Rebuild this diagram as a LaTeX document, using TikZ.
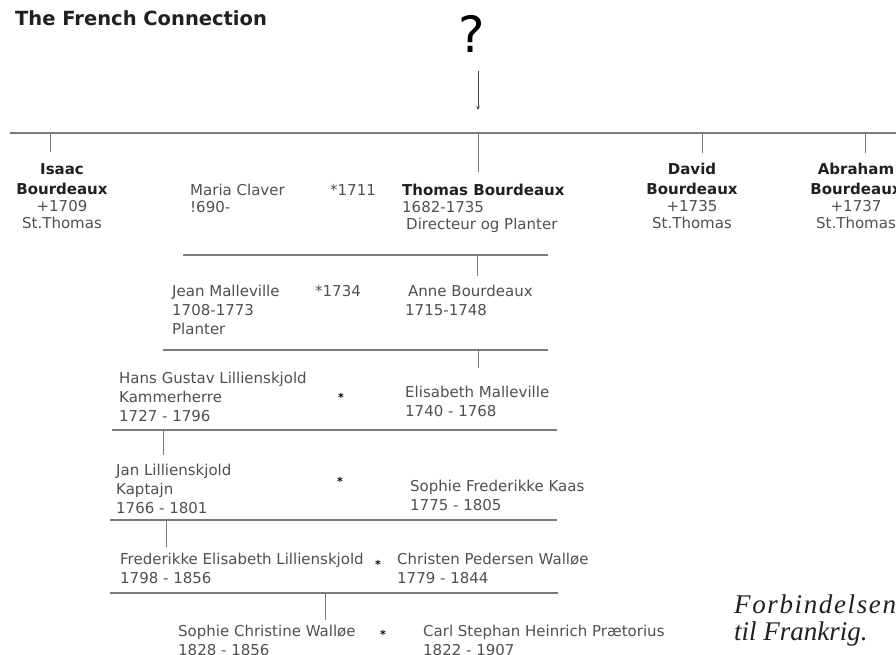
\documentclass[tikz,border=0pt]{standalone}
\usepackage{fontspec}
\usepackage{tikz}
\usetikzlibrary{arrows.meta}
\setmainfont{DejaVu Sans}
\newfontfamily\captionfont{Liberation Serif}
\definecolor{textgrey}{HTML}{505050}
\definecolor{namegrey}{HTML}{202020}
\definecolor{linegrey}{HTML}{7A7A7A}

\begin{document}
\begin{tikzpicture}[x=1pt,y=-1pt]
    \tikzstyle{person}=[anchor=base west,align=left,inner sep=0pt,text=textgrey,font=\fontsize{15}{19}\selectfont]
    \tikzstyle{tight}=[font=\fontsize{15}{17}\selectfont]
    \tikzstyle{brother}=[anchor=base,align=center,inner sep=0pt,text=textgrey,font=\fontsize{15}{17}\selectfont]
    \tikzstyle{wed}=[anchor=base,inner sep=0pt,text=black,font=\bfseries\fontsize{11}{11}\selectfont]
    \tikzstyle{bar}=[draw=linegrey,line width=1.6pt]
    \tikzstyle{tick}=[draw=linegrey,line width=1pt]
        \useasboundingbox[fill=white] (0,0) rectangle (896,655);

        % heading and the unknown ancestor
        \node[anchor=base west,inner sep=0pt,text=namegrey,font=\bfseries\fontsize{19.5}{20}\selectfont] (title) at (15,26) {The French Connection};
        \node[anchor=base,inner sep=0pt,text=black,font=\fontsize{50}{50}\selectfont] (quest) at (472,53) {?};
        \coordinate (Q-top) at (478,71);
        \coordinate (Q-end) at (478,110);
        \draw[linegrey!60!black,line width=0.8pt,-{Stealth[length=4pt,width=3.5pt]}] (Q-top) -- (Q-end);

        % the brothers (nodes sit on the baseline of their last line)
        \node[brother] (isaac) at (62,228) {\textcolor{namegrey}{\textbf{Isaac}}\\[3pt]\textcolor{namegrey}{\textbf{Bourdeaux}}\\+1709\\St.Thomas};
        \node[person,tight] (maria) at (190,212) {Maria Claver\\!690-};
        \node[person,tight] (M-1711) at (330,195) {*1711};
        \node[person,tight] (thomas) at (402,229) {\textcolor{namegrey}{\textbf{Thomas Bourdeaux}}\\1682-1735\\\hspace*{4pt}Directeur og Planter};
        \node[brother] (david) at (692,228) {\textcolor{namegrey}{\textbf{David}}\\[3pt]\textcolor{namegrey}{\textbf{Bourdeaux}}\\+1735\\St.Thomas};
        \node[brother] (abraham) at (856,228) {\textcolor{namegrey}{\textbf{Abraham}}\\[3pt]\textcolor{namegrey}{\textbf{Bourdeaux}}\\+1737\\St.Thomas};

        % the generations below
        \node[person] (jean) at (172,334) {Jean Malleville\\1708-1773\\Planter};
        \node[person] (M-1734) at (315,296) {*1734};
        \node[person] (anne) at (408,315) {Anne Bourdeaux\\\hspace*{-3pt}1715-1748};

        \node[person] (hans) at (119,421) {Hans Gustav Lillienskjold\\Kammerherre\\1727 - 1796};
        \node[wed] (W-1) at (341,401) {*};
        \node[person] (elisabeth) at (405,416) {Elisabeth Malleville\\1740 - 1768};

        \node[person] (jan) at (116,513) {Jan Lillienskjold\\Kaptajn\\1766 - 1801};
        \node[wed] (W-2) at (340,485) {*};
        \node[person] (kaas) at (410,510) {Sophie Frederikke Kaas\\1775 - 1805};

        \node[person] (frederikke) at (120,583) {Frederikke Elisabeth Lillienskjold\\1798 - 1856};
        \node[wed] (W-3) at (378,568) {*};
        \node[person] (christen) at (397,583) {Christen Pedersen Walløe\\1779 - 1844};

        \node[person] (christine) at (178,655) {Sophie Christine Walløe\\1828 - 1856};
        \node[wed] (W-4) at (383,638) {*};
        \node[person] (carl) at (423,655) {Carl Stephan Heinrich Prætorius\\1822 - 1907};

        \node[anchor=base west,align=left,inner sep=0pt,text=namegrey,font=\captionfont\itshape\fontsize{27}{27}\selectfont] (caption) at (734,640) {{\addfontfeature{LetterSpace=6}Forbindelsen}\\til Frankrig.};

        % family lines
        \coordinate (B-0l) at (10,133);   \coordinate (B-0r) at (896,133);
        \coordinate (B-1l) at (183,255);  \coordinate (B-1r) at (548,255);
        \coordinate (B-2l) at (163,350);  \coordinate (B-2r) at (548,350);
        \coordinate (B-3l) at (112,430);  \coordinate (B-3r) at (557,430);
        \coordinate (B-4l) at (110,520);  \coordinate (B-4r) at (557,520);
        \coordinate (B-5l) at (110,593);  \coordinate (B-5r) at (558,593);
        \foreach \n in {0,...,5}
            \draw[bar] (B-\n l) -- (B-\n r);

        % ticks down from the lines
        \coordinate (T-1) at (50,152);
        \coordinate (T-2) at (478,172);
        \coordinate (T-3) at (702,153);
        \coordinate (T-4) at (865,153);
        \coordinate (T-5) at (477,276);
        \coordinate (T-6) at (478,368);
        \coordinate (T-7) at (163,455);
        \coordinate (T-8) at (166,547);
        \coordinate (T-9) at (325,620);
        \foreach \t/\b in {1/0, 2/0, 3/0, 4/0, 5/1, 6/2, 7/3, 8/4, 9/5}
            \draw[tick] (T-\t |- B-\b l) -- (T-\t);
\end{tikzpicture}
\end{document}
